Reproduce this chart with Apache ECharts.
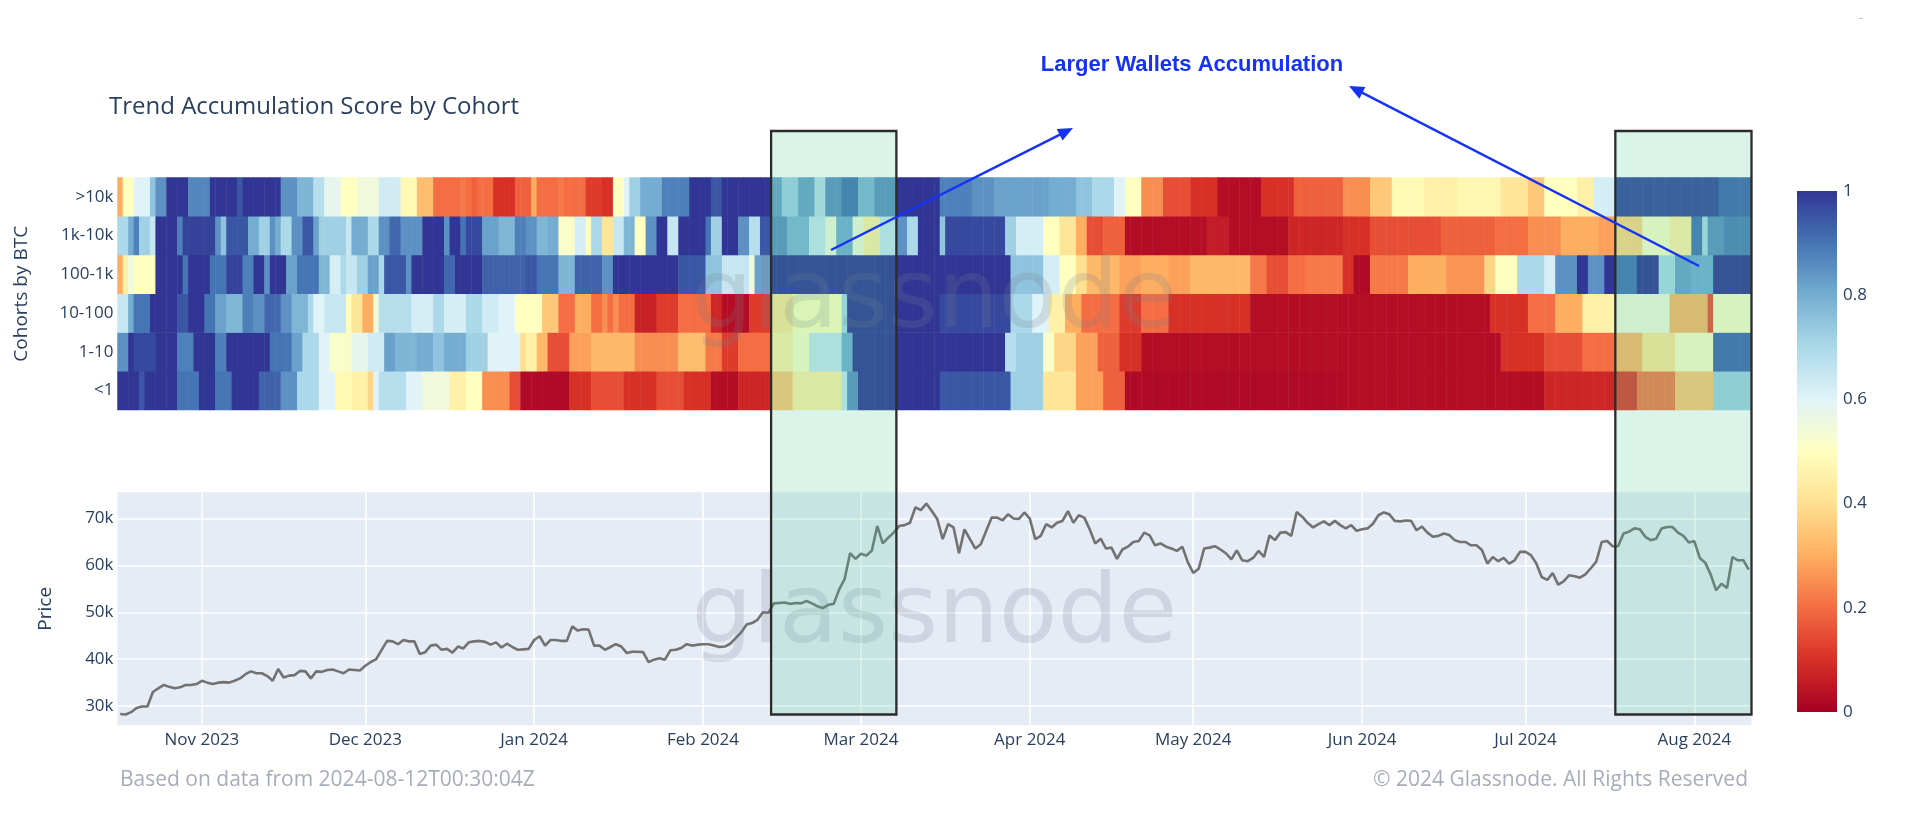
<!DOCTYPE html>
<html><head><meta charset="utf-8">
<script src="https://cdn.jsdelivr.net/npm/echarts@6/dist/echarts.min.js"></script>
<style>html,body{margin:0;padding:0;background:#fff}#c{width:1920px;height:816px}</style>
</head><body><div id="c"></div>
<script>
const START_DATE = [2023, 9, 17];
const cohorts = ['<1', '1-10', '10-100', '100-1k', '1k-10k', '>10k'];

const score_gt10k = [
0.3,0.5,0.5,0.6,0.6,0.6,0.75,0.85,0.85,1,
1,1,1,0.87,0.87,0.87,0.87,1,1,1,
1,1,0.95,1,1,1,1,1,1,1,
0.85,0.85,0.85,0.78,0.78,0.78,0.68,0.68,0.58,0.58,
0.58,0.5,0.5,0.5,0.55,0.55,0.55,0.55,0.63,0.63,
0.63,0.63,0.48,0.48,0.48,0.33,0.33,0.33,0.2,0.2,
0.2,0.2,0.2,0.22,0.2,0.18,0.2,0.2,0.2,0.1,
0.1,0.1,0.1,0.18,0.18,0.18,0.3,0.2,0.2,0.2,
0.2,0.22,0.2,0.2,0.2,0.2,0.12,0.12,0.12,0.1,
0.1,0.5,0.5,0.6,0.72,0.72,0.8,0.8,0.8,0.8,
0.88,0.88,0.88,0.88,0.88,1,1,1,1,0.95,
0.95,1,1,1,1,1,1,1,1,1,
0.82,0.82,0.72,0.72,0.72,0.82,0.82,0.82,0.68,0.68,
0.85,0.85,0.85,0.9,0.9,0.9,0.78,0.78,0.78,0.85,
0.85,0.85,0.85,1,1,1,1,1,1,1,
1,0.88,0.88,0.88,0.88,0.88,0.88,0.85,0.85,0.85,
0.85,0.82,0.82,0.82,0.82,0.82,0.82,0.82,0.82,0.82,
0.82,0.8,0.8,0.8,0.8,0.8,0.75,0.75,0.75,0.7,
0.7,0.7,0.7,0.6,0.6,0.5,0.5,0.5,0.25,0.25,
0.25,0.25,0.15,0.15,0.15,0.15,0.15,0.1,0.1,0.1,
0.1,0.1,0.03,0.03,0.03,0.03,0.03,0.03,0.03,0.03,
0.1,0.1,0.1,0.1,0.1,0.1,0.18,0.18,0.18,0.18,
0.18,0.18,0.18,0.18,0.18,0.25,0.25,0.25,0.25,0.25,
0.35,0.35,0.35,0.35,0.48,0.48,0.48,0.48,0.48,0.48,
0.45,0.45,0.45,0.45,0.45,0.45,0.47,0.47,0.47,0.47,
0.47,0.47,0.47,0.47,0.42,0.42,0.42,0.42,0.42,0.35,
0.35,0.35,0.5,0.5,0.5,0.5,0.5,0.5,0.45,0.45,
0.45,0.62,0.62,0.62,0.62,0.97,0.97,0.97,0.97,0.97,
0.97,0.97,0.97,0.97,0.97,0.97,0.97,0.97,0.97,0.97,
0.97,0.97,0.97,0.97,0.92,0.92,0.92,0.92,0.92,0.92
];

const score_1k_10k = [
0.7,0.7,0.8,0.88,0.72,0.72,0.65,1,1,1,
1,0.88,0.98,0.98,0.98,0.98,0.98,0.98,0.85,0.75,
0.95,0.95,0.95,0.95,0.8,0.8,0.72,0.72,0.85,0.8,
0.7,0.7,0.85,0.85,0.95,0.95,0.82,0.72,0.72,0.72,
0.72,0.72,0.65,0.8,0.8,0.8,0.7,0.7,0.85,0.85,
0.92,0.92,0.85,0.85,0.85,0.85,1,1,1,1,
0.85,1,1,0.9,0.97,0.97,0.97,0.82,0.82,0.82,
0.78,0.78,0.78,0.88,0.88,0.85,0.85,0.78,0.78,0.8,
0.8,0.52,0.52,0.52,0.62,0.62,0.5,0.7,0.7,0.42,
0.42,0.65,0.65,0.78,0.78,0.5,0.5,0.85,0.85,1,
1,0.65,0.65,1,1,1,1,1,0.9,0.72,
0.72,1,1,1,0.85,0.85,0.68,0.68,0.95,0.95,
0.85,0.85,0.85,0.78,0.78,0.78,0.78,0.65,0.65,0.65,
0.55,0.55,0.8,0.8,0.8,0.55,0.55,0.45,0.45,0.45,
0.65,0.65,0.65,0.85,0.85,0.7,0.7,1,1,1,
1,0.75,0.97,0.97,0.97,0.97,0.97,0.97,0.97,0.97,
0.97,0.97,0.97,0.72,0.72,0.62,0.62,0.62,0.62,0.62,
0.5,0.5,0.5,0.42,0.42,0.42,0.3,0.3,0.15,0.15,
0.15,0.18,0.18,0.18,0.18,0.03,0.03,0.03,0.03,0.03,
0.03,0.03,0.03,0.03,0.03,0.03,0.03,0.03,0.03,0.03,
0.06,0.06,0.06,0.06,0.03,0.03,0.03,0.03,0.03,0.03,
0.03,0.03,0.03,0.03,0.03,0.08,0.08,0.08,0.08,0.08,
0.08,0.08,0.08,0.08,0.08,0.1,0.1,0.1,0.1,0.1,
0.15,0.15,0.15,0.15,0.15,0.15,0.15,0.15,0.15,0.15,
0.15,0.15,0.15,0.18,0.18,0.18,0.18,0.18,0.18,0.18,
0.18,0.18,0.18,0.2,0.2,0.2,0.2,0.2,0.2,0.25,
0.25,0.25,0.25,0.25,0.25,0.3,0.3,0.3,0.3,0.3,
0.3,0.3,0.28,0.28,0.28,0.38,0.38,0.38,0.38,0.38,
0.52,0.52,0.52,0.52,0.52,0.45,0.45,0.45,0.45,0.9,
0.9,0.7,0.85,0.85,0.85,0.88,0.88,0.88,0.88,0.88
];

const score_100_1k = [
0.3,0.45,0.55,0.5,0.5,0.5,0.5,1,1,1,
1,1,0.9,1,1,1,1,0.9,0.9,0.9,
0.98,0.98,0.98,0.88,0.88,1,1,0.85,1,1,
1,0.82,0.82,0.9,0.9,0.9,0.9,0.78,0.78,0.62,
0.62,0.7,0.65,0.65,0.72,0.72,0.82,0.82,0.7,0.95,
0.95,0.95,0.95,0.85,1,1,1,1,1,1,
0.92,0.92,1,1,1,1,1,0.93,0.93,0.93,
0.93,0.93,0.93,0.93,0.93,0.95,0.95,0.9,0.9,0.9,
0.9,0.78,0.78,0.78,0.93,0.93,0.93,0.93,0.93,0.85,
0.85,1,1,1,1,1,1,1,1,1,
1,1,1,0.95,0.95,0.95,0.95,0.95,0.75,0.75,
0.75,0.65,0.65,0.65,0.65,0.65,0.55,0.82,0.82,0.82,
1,1,1,1,1,1,1,1,1,1,
1,1,1,1,1,1,1,1,1,1,
1,1,1,1,1,1,1,1,1,1,
1,1,1,1,1,1,1,1,1,1,
1,1,1,1,0.75,0.75,0.75,0.75,0.75,0.75,
0.62,0.62,0.62,0.5,0.5,0.5,0.4,0.4,0.32,0.32,
0.32,0.32,0.32,0.32,0.28,0.28,0.28,0.28,0.3,0.3,
0.3,0.3,0.3,0.28,0.28,0.28,0.28,0.32,0.32,0.32,
0.32,0.32,0.32,0.32,0.32,0.32,0.32,0.32,0.22,0.22,
0.22,0.15,0.15,0.15,0.15,0.2,0.2,0.2,0.22,0.22,
0.22,0.22,0.22,0.22,0.22,0.1,0.1,0.02,0.02,0.02,
0.22,0.22,0.22,0.22,0.22,0.22,0.22,0.3,0.3,0.3,
0.3,0.3,0.3,0.3,0.26,0.26,0.26,0.26,0.26,0.26,
0.26,0.38,0.38,0.5,0.5,0.5,0.5,0.7,0.7,0.7,
0.7,0.7,0.62,0.62,0.85,0.85,0.85,0.85,1,1,
0.85,0.85,0.85,1,1,0.9,0.9,0.9,0.9,1,
1,1,1,0.7,0.7,0.7,0.82,0.82,0.82,0.8,
0.8,0.8,0.8,1,1,1,1,1,1,1
];

const score_10_100 = [
0.65,0.65,0.8,0.9,0.9,0.9,1,1,1,1,
1,0.95,0.95,1,1,1,0.9,0.9,0.82,0.82,
0.78,0.78,0.78,0.88,0.88,0.85,0.85,0.92,0.92,0.92,
0.85,0.85,0.78,0.78,0.78,0.7,0.6,0.6,0.65,0.65,
0.65,0.65,0.5,0.42,0.42,0.3,0.3,0.55,0.68,0.68,
0.68,0.68,0.68,0.68,0.62,0.62,0.62,0.62,0.7,0.7,
0.62,0.62,0.62,0.62,0.7,0.7,0.7,0.63,0.63,0.63,
0.6,0.6,0.6,0.5,0.5,0.5,0.5,0.5,0.35,0.35,
0.35,0.2,0.2,0.2,0.3,0.3,0.3,0.2,0.2,0.25,
0.2,0.25,0.2,0.2,0.2,0.07,0.07,0.07,0.07,0.12,
0.12,0.12,0.12,0.2,0.2,0.2,0.2,0.2,0.2,0.08,
0.08,0.03,0.03,0.03,0.03,0.03,0.12,0.12,0.12,0.12,
0.42,0.42,0.42,0.42,0.5,0.5,0.5,0.5,0.5,0.5,
0.5,0.5,0.5,0.7,1,1,1,1,1,1,
1,1,1,1,1,1,1,1,1,1,
1,0.97,0.97,0.97,0.97,0.97,0.97,0.97,0.97,0.97,
0.97,0.97,0.97,0.97,0.7,0.7,0.7,0.7,0.6,0.6,
0.6,0.45,0.45,0.45,0.3,0.3,0.3,0.2,0.2,0.2,
0.2,0.2,0.2,0.2,0.12,0.12,0.12,0.12,0.2,0.2,
0.2,0.2,0.2,0.1,0.1,0.1,0.1,0.1,0.1,0.1,
0.1,0.1,0.1,0.1,0.1,0.1,0.1,0.1,0.03,0.03,
0.03,0.03,0.03,0.03,0.03,0.03,0.03,0.03,0.03,0.03,
0.03,0.03,0.03,0.03,0.03,0.03,0.03,0.03,0.03,0.03,
0.03,0.03,0.03,0.03,0.03,0.03,0.03,0.03,0.03,0.03,
0.03,0.03,0.03,0.03,0.03,0.03,0.03,0.03,0.03,0.03,
0.03,0.03,0.1,0.1,0.1,0.1,0.1,0.1,0.1,0.2,
0.2,0.2,0.2,0.2,0.3,0.3,0.3,0.3,0.3,0.45,
0.45,0.45,0.45,0.45,0.45,0.55,0.55,0.55,0.55,0.55,
0.55,0.55,0.55,0.55,0.55,0.32,0.32,0.32,0.32,0.32,
0.32,0.32,0.15,0.52,0.52,0.52,0.52,0.52,0.52,0.52
];

const score_1_10 = [
0.85,0.85,1,0.97,0.97,0.97,0.97,1,1,1,
1,0.88,0.88,0.88,1,1,1,1,0.88,0.88,
1,1,1,1,1,1,1,1,0.9,0.9,
0.9,0.9,0.82,0.82,0.7,0.7,0.7,0.6,0.6,0.52,
0.52,0.52,0.52,0.58,0.58,0.58,0.63,0.63,0.63,0.82,
0.82,0.78,0.78,0.78,0.78,0.8,0.8,0.8,0.75,0.75,
0.8,0.8,0.8,0.8,0.72,0.72,0.72,0.72,0.6,0.6,
0.6,0.6,0.6,0.6,0.4,0.45,0.45,0.32,0.32,0.15,
0.15,0.15,0.15,0.28,0.28,0.28,0.28,0.32,0.32,0.32,
0.32,0.32,0.32,0.32,0.32,0.25,0.25,0.25,0.25,0.25,
0.25,0.25,0.25,0.33,0.33,0.33,0.33,0.33,0.22,0.22,
0.22,0.12,0.12,0.12,0.2,0.2,0.2,0.2,0.2,0.2,
0.45,0.45,0.45,0.45,0.52,0.52,0.52,0.65,0.65,0.65,
0.65,0.65,0.65,0.8,0.8,1,1,1,1,1,
1,1,1,1,1,1,1,1,1,1,
1,1,1,1,1,1,1,1,1,1,
1,1,1,0.68,0.68,0.72,0.72,0.72,0.72,0.72,
0.52,0.52,0.38,0.38,0.38,0.38,0.28,0.28,0.28,0.28,
0.18,0.18,0.18,0.18,0.1,0.1,0.1,0.1,0.03,0.03,
0.03,0.03,0.03,0.03,0.03,0.03,0.03,0.03,0.03,0.03,
0.03,0.03,0.03,0.03,0.03,0.03,0.03,0.03,0.03,0.03,
0.03,0.03,0.03,0.03,0.03,0.03,0.03,0.03,0.03,0.03,
0.03,0.03,0.03,0.03,0.03,0.03,0.03,0.03,0.03,0.03,
0.03,0.03,0.03,0.03,0.03,0.03,0.03,0.03,0.03,0.03,
0.03,0.03,0.03,0.03,0.03,0.03,0.03,0.03,0.03,0.03,
0.03,0.03,0.03,0.03,0.1,0.1,0.1,0.1,0.1,0.1,
0.1,0.1,0.15,0.15,0.15,0.15,0.15,0.15,0.15,0.2,
0.2,0.2,0.2,0.2,0.2,0.32,0.32,0.32,0.32,0.32,
0.42,0.42,0.42,0.42,0.42,0.42,0.52,0.52,0.52,0.52,
0.52,0.52,0.52,0.92,0.92,0.92,0.92,0.92,0.92,0.92
];

const score_lt1 = [
1,1,1,1,0.95,1,1,1,1,1,
1,0.9,0.9,0.9,0.9,1,1,1,0.9,0.9,
0.9,1,1,1,1,1,0.93,0.93,0.93,0.93,
0.85,0.85,0.85,0.7,0.7,0.7,0.7,0.6,0.6,0.6,
0.48,0.48,0.48,0.45,0.45,0.45,0.38,0.6,0.68,0.68,
0.68,0.68,0.68,0.6,0.6,0.6,0.55,0.55,0.55,0.55,
0.55,0.45,0.45,0.45,0.5,0.5,0.5,0.25,0.25,0.25,
0.25,0.25,0.15,0.15,0.02,0.02,0.02,0.02,0.02,0.02,
0.02,0.02,0.02,0.1,0.1,0.1,0.1,0.15,0.15,0.15,
0.15,0.15,0.15,0.1,0.1,0.1,0.1,0.1,0.1,0.15,
0.15,0.15,0.15,0.15,0.1,0.1,0.1,0.1,0.1,0.03,
0.03,0.03,0.03,0.03,0.08,0.08,0.08,0.08,0.08,0.08,
0.35,0.35,0.35,0.35,0.45,0.45,0.45,0.45,0.45,0.45,
0.45,0.45,0.45,0.65,0.85,0.85,1,1,1,1,
1,1,1,1,1,1,1,1,1,1,
1,0.95,0.95,0.95,0.95,0.95,0.95,0.95,0.95,0.95,
0.95,0.95,0.95,0.95,0.72,0.72,0.72,0.72,0.72,0.72,
0.42,0.42,0.42,0.42,0.42,0.42,0.28,0.28,0.28,0.28,
0.28,0.18,0.18,0.18,0.18,0.02,0.02,0.02,0.02,0.02,
0.02,0.02,0.02,0.02,0.02,0.02,0.02,0.02,0.02,0.02,
0.02,0.02,0.02,0.02,0.02,0.02,0.02,0.02,0.02,0.02,
0.02,0.02,0.02,0.02,0.02,0.02,0.02,0.02,0.02,0.02,
0.02,0.02,0.02,0.02,0.02,0.03,0.03,0.03,0.03,0.03,
0.03,0.03,0.03,0.03,0.03,0.03,0.03,0.03,0.03,0.03,
0.03,0.03,0.03,0.03,0.03,0.03,0.03,0.03,0.03,0.03,
0.03,0.03,0.03,0.03,0.03,0.03,0.03,0.03,0.03,0.03,
0.03,0.03,0.08,0.08,0.08,0.08,0.08,0.08,0.08,0.08,
0.08,0.08,0.08,0.08,0.08,0.12,0.12,0.12,0.12,0.22,
0.22,0.22,0.22,0.22,0.22,0.22,0.35,0.35,0.35,0.35,
0.35,0.35,0.35,0.72,0.72,0.72,0.72,0.72,0.72,0.72
];

const price = [
28300,28200,28700,29600,29900,29900,33000,33800,34500,34100,
33800,34000,34500,34500,34700,35400,35000,34700,35000,35100,
35000,35400,35900,36800,37400,37000,37000,36400,35400,37900,
36100,36500,36600,37500,37400,35900,37400,37300,37700,37800,
37400,37000,37800,37700,37600,38600,39400,40000,42000,43900,
43800,43200,44100,43800,43800,41100,41500,42900,43100,42000,
42200,41400,42700,42300,43600,43800,43900,43700,43100,43600,
42500,43300,42600,42000,42100,42200,44100,44900,42900,44100,
44100,43900,43900,47000,46100,46400,46300,42900,42900,42000,
42600,43200,42700,41300,41600,41600,41500,39400,39900,40200,
39900,41900,42000,42400,43200,42900,43100,43200,43200,42900,
42600,42700,43300,44500,45700,47400,47700,48400,50000,49900,
51900,52000,52100,51800,52000,51900,52400,51900,51300,50900,
51600,51800,54900,57100,62600,61400,62500,62100,63200,68400,
64700,65900,67000,68400,68600,69100,72400,71800,73200,71600,
69900,65600,68800,68100,62600,67700,65600,63600,64500,67400,
70200,70200,69600,70900,70000,69900,71300,70000,65600,66300,
68800,68100,69100,69500,71600,69100,70700,70200,67700,64700,
65700,63600,63800,61400,63400,64000,65000,65200,67000,66400,
64300,64700,64000,63600,63100,64000,60700,58400,59300,63600,
63800,64100,63400,62600,61300,63200,61100,60900,61600,63100,
61800,66400,65400,67000,67100,66300,71400,70400,69100,68100,
68800,69400,68600,69500,68600,67900,68600,67400,67700,67900,
68900,70700,71300,70900,69500,69400,69600,69500,67500,68300,
67000,66100,66300,66800,66500,65400,65000,65000,64300,64300,
63300,60400,61800,60900,61600,60400,61100,62900,62900,62200,
60400,57500,56900,58400,55900,56600,57900,57700,57400,58100,
59400,60800,65000,65200,64100,64100,66800,67200,67900,67700,
66100,65400,65700,67900,68200,68200,67000,66300,64900,65200,
61600,60600,58100,54700,56100,55200,61800,61100,61100,59100
];

const monthTicks = ['2023-11-01','2023-12-01','2024-01-01','2024-02-01','2024-03-01','2024-04-01','2024-05-01','2024-06-01','2024-07-01','2024-08-01'];
const monthLabels = ['Nov 2023','Dec 2023','Jan 2024','Feb 2024','Mar 2024','Apr 2024','May 2024','Jun 2024','Jul 2024','Aug 2024'];
const priceTicks = [30000, 40000, 50000, 60000, 70000];
const colorbarTicks = [0, 0.2, 0.4, 0.6, 0.8, 1];
const highlightBoxes = [['2024-02-14', '2024-03-07'], ['2024-07-18', '2024-08-11']];
const boxBottomPrice = 28200;

const RdYlBu = ['#a50026','#d73027','#f46d43','#fdae61','#fee090','#ffffbf','#e0f3f8','#abd9e9','#74add1','#4575b4','#313695'];
const TXT = '#2a3f5f';
const FONT = "'Open Sans', 'Noto Sans', sans-serif";

const dates = [];
for (let i = 0; i < price.length; i++) {
  const d = new Date(Date.UTC(START_DATE[0], START_DATE[1], START_DATE[2] + i));
  dates.push(d.toISOString().slice(0, 10));
}
const rows = [score_lt1, score_1_10, score_10_100, score_100_1k, score_1k_10k, score_gt10k];
const heatData = [];
rows.forEach((arr, r) => arr.forEach((v, i) => heatData.push([i, r, v])));

const G0 = {left: 117.5, top: 177.5, width: 1634, height: 232.5};
const G1 = {left: 117.5, top: 492.3, width: 1634, height: 233};
const G2 = {left: 1797, top: 191, width: 40, height: 521};

const isMonth = (idx, val) => monthTicks.indexOf(val) >= 0;

const chart = echarts.init(document.getElementById('c'), null, {renderer: 'canvas'});
chart.setOption({
  animation: false,
  backgroundColor: '#ffffff',
  textStyle: {fontFamily: FONT},
  title: {
    text: 'Trend Accumulation Score by Cohort',
    left: 104, top: 90,
    textStyle: {fontFamily: FONT, fontSize: 24, fontWeight: 'normal', color: TXT}
  },
  grid: [
    Object.assign({outerBoundsMode: 'none', containLabel: false}, G0),
    Object.assign({outerBoundsMode: 'none', containLabel: false, show: true, backgroundColor: '#e5ecf6', borderWidth: 0}, G1),
    Object.assign({outerBoundsMode: 'none', containLabel: false}, G2)
  ],
  visualMap: {
    type: 'continuous', show: false, min: 0, max: 1, seriesIndex: 0,
    inRange: {color: RdYlBu}
  },
  xAxis: [
    {type: 'category', gridIndex: 0, data: dates, boundaryGap: true,
     axisLine: {show: false}, axisTick: {show: false}, axisLabel: {show: false}, splitLine: {show: false}},
    {type: 'category', gridIndex: 1, data: dates, boundaryGap: true,
     axisLine: {show: false}, axisTick: {show: false, interval: isMonth, alignWithLabel: true},
     axisLabel: {interval: isMonth, formatter: v => monthLabels[monthTicks.indexOf(v)] || '',
       color: TXT, fontSize: 17, fontFamily: FONT, margin: 6},
     splitLine: {show: true, interval: isMonth, alignWithLabel: true, lineStyle: {color: '#ffffff', width: 1.6}}},
    {type: 'category', gridIndex: 2, data: ['cb'], show: false}
  ],
  yAxis: [
    {type: 'category', gridIndex: 0, data: cohorts,
     axisLine: {show: false}, axisTick: {show: false}, splitLine: {show: false},
     axisLabel: {color: TXT, fontSize: 17, fontFamily: FONT, margin: 4},
     name: 'Cohorts by BTC', nameLocation: 'middle', nameGap: 86,
     nameTextStyle: {color: TXT, fontSize: 19, fontFamily: FONT}},
    {type: 'value', gridIndex: 1, min: 25900, max: 75600,
     axisLine: {show: false}, axisTick: {show: false, customValues: priceTicks},
     axisLabel: {customValues: priceTicks, formatter: v => (v / 1000) + 'k', color: TXT, fontSize: 17, fontFamily: FONT, margin: 4},
     splitLine: {show: true, lineStyle: {color: '#ffffff', width: 1.6}},
     name: 'Price', nameLocation: 'middle', nameGap: 62,
     nameTextStyle: {color: TXT, fontSize: 19, fontFamily: FONT}},
    {type: 'value', gridIndex: 2, min: 0, max: 1, interval: 0.2, position: 'right',
     axisLine: {show: false}, axisTick: {show: false}, splitLine: {show: false},
     axisLabel: {customValues: colorbarTicks, formatter: v => String(+(+v).toFixed(1)), color: TXT, fontSize: 17, fontFamily: FONT, margin: 6}}
  ],
  series: [
    {type: 'heatmap', xAxisIndex: 0, yAxisIndex: 0, data: heatData, progressive: 0, silent: true,
     itemStyle: {borderWidth: 0}},
    {type: 'line', xAxisIndex: 1, yAxisIndex: 1, data: price, showSymbol: false, symbol: 'none',
     lineStyle: {color: '#727272', width: 2.6}, z: 3, silent: true},
    {type: 'bar', xAxisIndex: 2, yAxisIndex: 2, data: [1], barWidth: '100%', silent: true,
     itemStyle: {color: {type: 'linear', x: 0, y: 1, x2: 0, y2: 0,
       colorStops: RdYlBu.map((c, k) => ({offset: k / (RdYlBu.length - 1), color: c}))}}}
  ]
});

// ---- annotations positioned through the axes ----
const xPix = d => chart.convertToPixel({xAxisIndex: 1}, d);
const halfBand = (xPix(dates[1]) - xPix(dates[0])) / 2;
const boxTop = 131;
const boxBottom = chart.convertToPixel({yAxisIndex: 1}, boxBottomPrice);
const BLUE = '#1633f5';

const graphics = [];
const wm = (g, dy) => ({
  type: 'text', z: 40, silent: true,
  style: {text: 'glassnode', x: g.left + g.width / 2, y: g.top + g.height / 2 + dy,
    align: 'center', verticalAlign: 'middle', fontSize: 96, fontFamily: "'DejaVu Sans', sans-serif",
    fill: 'rgba(120,126,142,0.2)'}
});
graphics.push(wm(G0, 8), wm(G1, 8));

highlightBoxes.forEach(([a, b]) => {
  const x0 = xPix(a) - halfBand, x1 = xPix(b) + halfBand;
  graphics.push({
    type: 'rect', z: 50, silent: true,
    shape: {x: x0, y: boxTop, width: x1 - x0, height: boxBottom - boxTop},
    style: {fill: 'rgba(72,200,150,0.2)', stroke: '#2b2b2b', lineWidth: 2.3}
  });
});

function arrow(from, to) {
  const dx = to[0] - from[0], dy = to[1] - from[1];
  const L = Math.hypot(dx, dy), ux = dx / L, uy = dy / L;
  const hl = 15, hw = 6.5;
  const bx = to[0] - ux * hl, by = to[1] - uy * hl;
  graphics.push({type: 'line', z: 60, silent: true,
    shape: {x1: from[0], y1: from[1], x2: bx + ux * 2, y2: by + uy * 2},
    style: {stroke: BLUE, lineWidth: 2.5}});
  graphics.push({type: 'polygon', z: 60, silent: true,
    shape: {points: [to, [bx - uy * hw, by + ux * hw], [bx + uy * hw, by - ux * hw]]},
    style: {fill: BLUE}});
}
arrow([831, 250], [1073, 128]);
arrow([1699, 266], [1349, 86]);

graphics.push({type: 'text', z: 60, silent: true,
  style: {text: 'Larger Wallets Accumulation', x: 1192, y: 65, align: 'center', verticalAlign: 'middle',
    fontSize: 22, fontWeight: 'bold', fontFamily: "'Liberation Sans', Arial, sans-serif", fill: BLUE}});

graphics.push({type: 'text', z: 60, silent: true,
  style: {text: 'Based on data from 2024-08-12T00:30:04Z', x: 120, y: 780, align: 'left', verticalAlign: 'middle',
    fontSize: 21, fontFamily: FONT, fill: '#a7adb8'}});
graphics.push({type: 'text', z: 60, silent: true,
  style: {text: '\u00A9 2024 Glassnode. All Rights Reserved', x: 1748, y: 780, align: 'right', verticalAlign: 'middle',
    fontSize: 21, fontFamily: FONT, fill: '#a7adb8'}});
graphics.push({type: 'text', z: 60, silent: true,
  style: {text: '-', x: 1861, y: 19, align: 'center', verticalAlign: 'middle', fontSize: 12, fontFamily: FONT, fill: '#b0b0b0'}});

chart.setOption({graphic: {elements: graphics}});
</script>
</body></html>
